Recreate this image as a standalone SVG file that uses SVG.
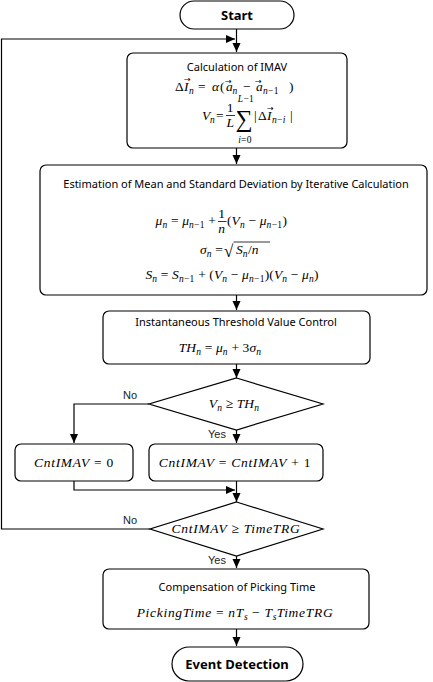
<svg xmlns="http://www.w3.org/2000/svg" width="433" height="682" viewBox="0 0 433 682">
<style>
.box{fill:#fff;stroke:#000;stroke-width:1.2}
.ln{fill:none;stroke:#000;stroke-width:1.2}
.fr{stroke:#000;stroke-width:0.8}
.ttl{font-family:"Noto Sans","Open Sans",sans-serif;font-size:11px;fill:#000}
.term{font-family:"Noto Sans","Open Sans",sans-serif;font-size:13px;font-weight:bold;fill:#000}
.lbl{font-family:"Liberation Sans",Arial,sans-serif;font-size:11px;fill:#222}
.m{font-family:"Liberation Serif","DejaVu Serif",serif;font-size:13.5px;font-style:italic;fill:#000;letter-spacing:0.7px}
.t{letter-spacing:0.1px}
.u{font-style:normal}
.s{font-size:9.5px;letter-spacing:0.3px}
.vec{font-family:"DejaVu Sans",sans-serif;font-size:8px;font-style:normal;letter-spacing:0}
</style>
<defs>
<marker id="ah" markerUnits="userSpaceOnUse" markerWidth="10" markerHeight="10" refX="9" refY="4" orient="auto">
<path d="M0,0 L9,4 L0,8 z" fill="#000"/>
</marker>
</defs>

<g id="connectors">
<path class="ln" d="M236.5,29 V52" marker-end="url(#ah)"/>
<path class="ln" d="M236.5,148 V164" marker-end="url(#ah)"/>
<path class="ln" d="M236.5,295 V310" marker-end="url(#ah)"/>
<path class="ln" d="M236.5,364 V378" marker-end="url(#ah)"/>
<path class="ln" d="M149,404 H74 V443" marker-end="url(#ah)"/>
<path class="ln" d="M236.5,430 V443" marker-end="url(#ah)"/>
<path class="ln" d="M74,481 V490 H235" marker-end="url(#ah)"/>
<path class="ln" d="M236.5,481 V502" marker-end="url(#ah)"/>
<path class="ln" d="M150,529 H1.5 V39 H235" marker-end="url(#ah)"/>
<path class="ln" d="M236.5,556 V568" marker-end="url(#ah)"/>
<path class="ln" d="M236.5,629 V646" marker-end="url(#ah)"/>
<text class="lbl" x="123" y="399">No</text>
<text class="lbl" x="208" y="438">Yes</text>
<text class="lbl" x="123" y="524">No</text>
<text class="lbl" x="208" y="564">Yes</text>
</g>

<g id="start">
<rect class="box" x="180" y="1" width="114" height="28" rx="14"/>
<text class="term" x="237" y="20" text-anchor="middle">Start</text>
</g>

<g id="calc">
<rect class="box" x="127" y="53" width="220" height="95" rx="6"/>
<text class="ttl" x="237" y="71" text-anchor="middle">Calculation of IMAV</text>
<text class="m" y="91"><tspan class="u" x="175">Δ</tspan><tspan x="184">I</tspan><tspan class="vec" x="184" y="82">→</tspan><tspan class="s" x="189" y="94">n</tspan><tspan class="u" x="198" y="91">=</tspan><tspan x="212">α</tspan><tspan class="u" x="220">(</tspan><tspan x="226">a</tspan><tspan class="vec" x="225" y="84">→</tspan><tspan class="s" x="232.5" y="94">n</tspan><tspan class="u" x="243" y="91">−</tspan><tspan x="256">a</tspan><tspan class="vec" x="255" y="84">→</tspan><tspan class="s" x="263" y="94">n<tspan class="u">−1</tspan></tspan><tspan class="u" x="289" y="91">)</tspan></text>
<text class="m" y="120"><tspan x="202">V</tspan><tspan class="s" x="210" y="123">n</tspan><tspan class="u" x="216" y="120">=</tspan></text>
<text class="m u" x="230.5" y="112" text-anchor="middle">1</text>
<line class="fr" x1="226" y1="115.5" x2="235" y2="115.5"/>
<text class="m" x="230.5" y="127" text-anchor="middle">L</text>
<text class="m u" x="244" y="127" text-anchor="middle" style="font-size:24px;letter-spacing:0">∑</text>
<text class="m s" x="246" y="101.5" text-anchor="middle">L<tspan class="u">−1</tspan></text>
<text class="m s" x="245" y="143" text-anchor="middle">i<tspan class="u">=0</tspan></text>
<text class="m" y="120"><tspan class="u" x="254">|</tspan><tspan class="u" x="258">Δ</tspan><tspan x="267">I</tspan><tspan class="vec" x="267" y="111">→</tspan><tspan class="s" x="272" y="123">n<tspan class="u">−</tspan>i</tspan><tspan class="u" x="290" y="120">|</tspan></text>
</g>

<g id="estimation">
<rect class="box" x="40" y="165" width="387" height="130" rx="6"/>
<text class="ttl" x="236" y="188" text-anchor="middle">Estimation of Mean and Standard Deviation by Iterative Calculation</text>
<text class="m t" x="216" y="225" text-anchor="end">μ<tspan class="s" dy="3">n</tspan><tspan class="u" dy="-3"> = </tspan>μ<tspan class="s" dy="3">n<tspan class="u">−1</tspan></tspan><tspan class="u" dy="-3"> +</tspan></text>
<text class="m u" x="222" y="218" text-anchor="middle">1</text>
<line class="fr" x1="218" y1="221.5" x2="226.5" y2="221.5"/>
<text class="m" x="222" y="233" text-anchor="middle">n</text>
<text class="m t" x="227" y="225"><tspan class="u">(</tspan>V<tspan class="s" dy="3">n</tspan><tspan class="u" dy="-3"> − </tspan>μ<tspan class="s" dy="3">n<tspan class="u">−1</tspan></tspan><tspan class="u" dy="-3">)</tspan></text>
<text class="m t" x="223" y="254" text-anchor="end">σ<tspan class="s" dy="3">n</tspan><tspan class="u" dy="-3"> =</tspan></text>
<text class="m u" x="224" y="257" style="font-size:17px;letter-spacing:0">√</text>
<line class="fr" x1="233.5" y1="242" x2="270" y2="242"/>
<text class="m t" x="236" y="254">S<tspan class="s" dy="3">n</tspan><tspan class="u" dy="-3">/</tspan>n</text>
<text class="m t" x="232" y="279" text-anchor="middle">S<tspan class="s" dy="3">n</tspan><tspan class="u" dy="-3"> = </tspan>S<tspan class="s" dy="3">n<tspan class="u">−1</tspan></tspan><tspan class="u" dy="-3"> + (</tspan>V<tspan class="s" dy="3">n</tspan><tspan class="u" dy="-3"> − </tspan>μ<tspan class="s" dy="3">n<tspan class="u">−1</tspan></tspan><tspan class="u" dy="-3">)(</tspan>V<tspan class="s" dy="3">n</tspan><tspan class="u" dy="-3"> − </tspan>μ<tspan class="s" dy="3">n</tspan><tspan class="u" dy="-3">)</tspan></text>
</g>

<g id="threshold">
<rect class="box" x="103" y="311" width="267" height="53" rx="6"/>
<text class="ttl" x="236" y="326" text-anchor="middle">Instantaneous Threshold Value Control</text>
<text class="m t" x="220" y="352" text-anchor="middle">TH<tspan class="s" dy="3">n</tspan><tspan class="u" dy="-3"> = </tspan>μ<tspan class="s" dy="3">n</tspan><tspan class="u" dy="-3"> + 3</tspan>σ<tspan class="s" dy="3">n</tspan></text>
</g>

<g id="decision1">
<polygon class="box" points="236.5,378 323,404 236.5,430 149,404"/>
<text class="m t" x="234" y="408" text-anchor="middle">V<tspan class="s" dy="3">n</tspan><tspan class="u" dy="-3"> ≥ </tspan>TH<tspan class="s" dy="3">n</tspan></text>
</g>

<g id="reset">
<rect class="box" x="15" y="444" width="118" height="37" rx="6"/>
<text class="m" x="74" y="467" text-anchor="middle">CntIMAV<tspan class="u"> = 0</tspan></text>
</g>

<g id="increment">
<rect class="box" x="149" y="444" width="174" height="37" rx="6"/>
<text class="m" x="235" y="467" text-anchor="middle">CntIMAV<tspan class="u"> = </tspan>CntIMAV<tspan class="u"> + 1</tspan></text>
</g>

<g id="decision2">
<polygon class="box" points="236.5,502 323,529 236.5,556 150,529"/>
<text class="m" x="236" y="533" text-anchor="middle">CntIMAV<tspan class="u"> ≥ </tspan>TimeTRG</text>
</g>

<g id="compensation">
<rect class="box" x="103" y="569" width="266" height="60" rx="6"/>
<text class="ttl" x="237" y="591" text-anchor="middle">Compensation of Picking Time</text>
<text class="m" x="235" y="617" text-anchor="middle">PickingTime<tspan class="u"> = </tspan>nT<tspan class="s" dy="3">s</tspan><tspan class="u" dy="-3"> − </tspan>T<tspan class="s" dy="3">s</tspan><tspan dy="-3">TimeTRG</tspan></text>
</g>

<g id="event">
<rect class="box" x="172" y="647" width="131" height="34" rx="17"/>
<text class="term" x="237" y="669" text-anchor="middle">Event Detection</text>
</g>
</svg>
